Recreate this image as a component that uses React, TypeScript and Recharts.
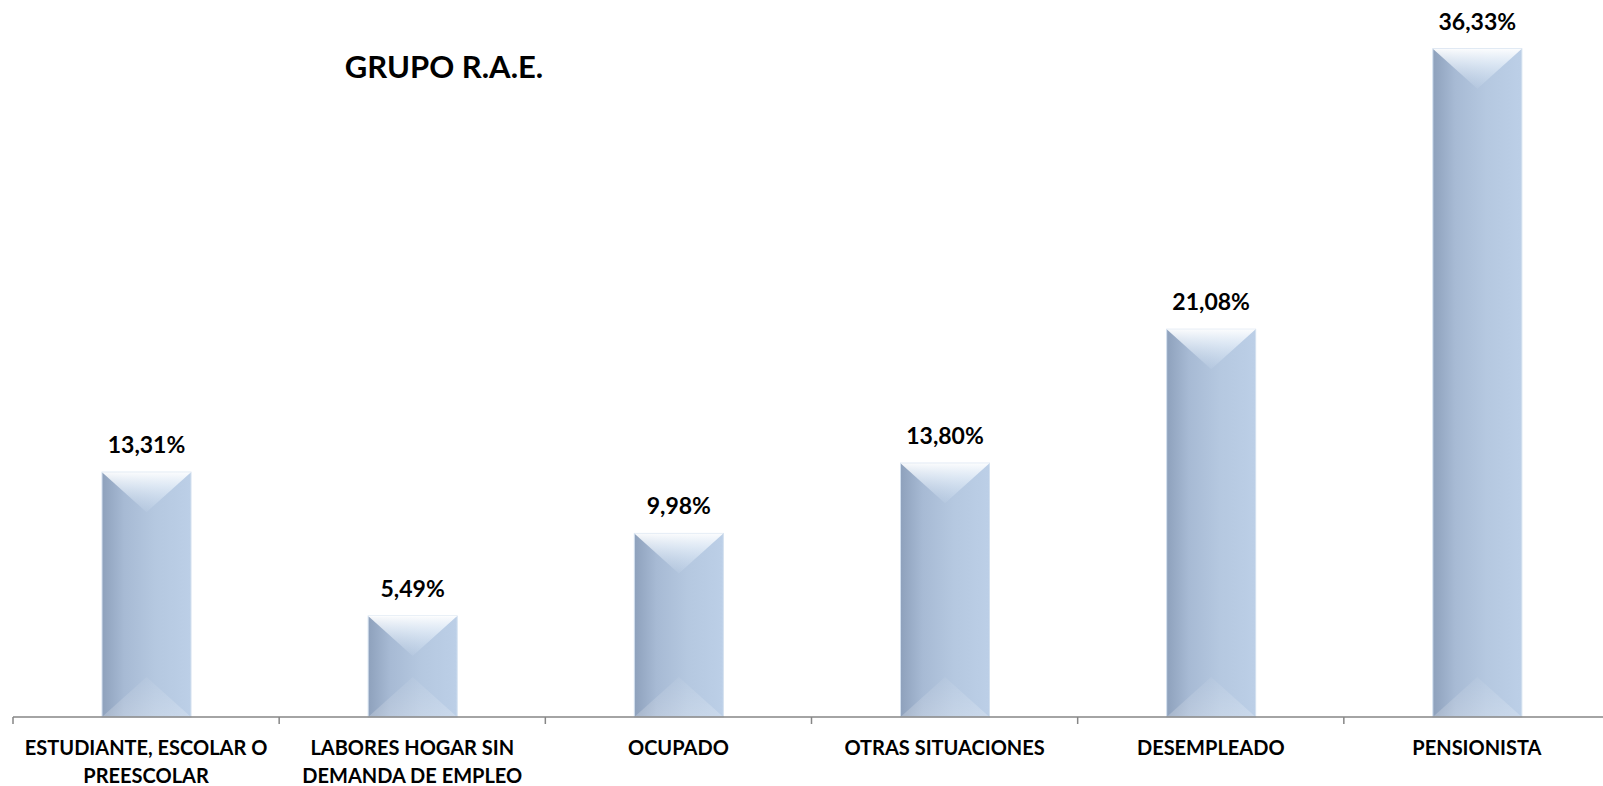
import { BarChart, Bar, XAxis, YAxis, LabelList } from "recharts";

const categories = [
  "ESTUDIANTE, ESCOLAR O PREESCOLAR",
  "LABORES HOGAR SIN DEMANDA DE EMPLEO",
  "OCUPADO",
  "OTRAS SITUACIONES",
  "DESEMPLEADO",
  "PENSIONISTA",
];
const tickLines = [
  ["ESTUDIANTE, ESCOLAR O", "PREESCOLAR"],
  ["LABORES HOGAR SIN", "DEMANDA DE EMPLEO"],
  ["OCUPADO"],
  ["OTRAS SITUACIONES"],
  ["DESEMPLEADO"],
  ["PENSIONISTA"],
];
const values = [13.31, 5.49, 9.98, 13.8, 21.08, 36.33];

const data = categories.map((c, i) => ({ name: c, idx: i, value: values[i] }));

const PAGE_W = 1603;
const W = 1610; // plot runs slightly past the right edge, as in the original
const H = 786;
const M = { top: 18, right: 0, left: 13, bottom: 0 };
const BAND = (W - M.left - M.right) / categories.length;
const FONT = "Lato, 'Open Sans', sans-serif";

const fmt = (v: number) => v.toFixed(2).replace(".", ",") + "%";

function BevelBar(props: any) {
  const { x, y, width, height } = props;
  if (!height || height <= 0) return null;
  const d = Math.min(width / 2 * 0.9, height / 2);
  const cx = x + width / 2;
  return (
    <g>
      <rect x={x} y={y} width={width} height={height} fill="url(#barBody)" stroke="#d3e0ef" strokeWidth={1} />
      <polygon points={`${x},${y} ${x + width},${y} ${cx},${y + d}`} fill="url(#topBevel)" />
      <polygon points={`${x},${y + height} ${x + width},${y + height} ${cx},${y + height - d}`} fill="url(#botBevel)" />
    </g>
  );
}

function ValueLabel(props: any) {
  const { x, y, width, value } = props;
  return (
    <text x={x + width / 2} y={y - 19} textAnchor="middle" fontFamily={FONT} fontWeight={700} fontSize={23} fill="#000">
      {fmt(value)}
    </text>
  );
}

function CatTick(props: any) {
  const { x, y, payload } = props;
  const lines = tickLines[payload.index] || [payload.value];
  const bx = x - BAND / 2;
  return (
    <g>
      <line x1={bx} y1={y} x2={bx} y2={y + 7} stroke="#868686" strokeWidth={1.5} />
      {lines.map((l, i) => (
        <text key={i} x={x} y={y + 38 + i * 28} textAnchor="middle" fontFamily={FONT} fontWeight={700} fontSize={20} fill="#000">
          {l}
        </text>
      ))}
    </g>
  );
}

export default function App() {
  return (
    <div style={{ position: "absolute", left: 0, top: 0, width: PAGE_W, height: H, overflow: "hidden", background: "#fff" }}>
      <BarChart width={W} height={H} data={data} margin={M} barCategoryGap={0}>
        <defs>
          <linearGradient id="barBody" x1="0" y1="0" x2="1" y2="0">
            <stop offset="0%" stopColor="#8ea1bc" />
            <stop offset="25%" stopColor="#a7bad4" />
            <stop offset="60%" stopColor="#b5c8e0" />
            <stop offset="100%" stopColor="#bccfe7" />
          </linearGradient>
          <linearGradient id="topBevel" x1="0" y1="0" x2="0" y2="1">
            <stop offset="0%" stopColor="#ffffff" stopOpacity={0.95} />
            <stop offset="35%" stopColor="#eef5fc" stopOpacity={0.7} />
            <stop offset="100%" stopColor="#d8e6f5" stopOpacity={0.1} />
          </linearGradient>
          <linearGradient id="botBevel" x1="0" y1="0" x2="0" y2="1">
            <stop offset="0%" stopColor="#ffffff" stopOpacity={0.05} />
            <stop offset="100%" stopColor="#ffffff" stopOpacity={0.22} />
          </linearGradient>
        </defs>
        <text x={444} y={78} textAnchor="middle" fontFamily={FONT} fontWeight={700} fontSize={31} fill="#000">
          GRUPO R.A.E.
        </text>
        <XAxis
          dataKey="name"
          interval={0}
          height={H - 717}
          tickSize={0}
          tickMargin={0}
          tickLine={false}
          axisLine={{ stroke: "#868686", strokeWidth: 1.5 }}
          tick={<CatTick />}
        />
        <YAxis hide domain={[0, 38]} />
        <Bar dataKey="value" barSize={89} shape={<BevelBar />} isAnimationActive={false}>
          <LabelList dataKey="value" content={<ValueLabel />} />
        </Bar>
      </BarChart>
    </div>
  );
}
